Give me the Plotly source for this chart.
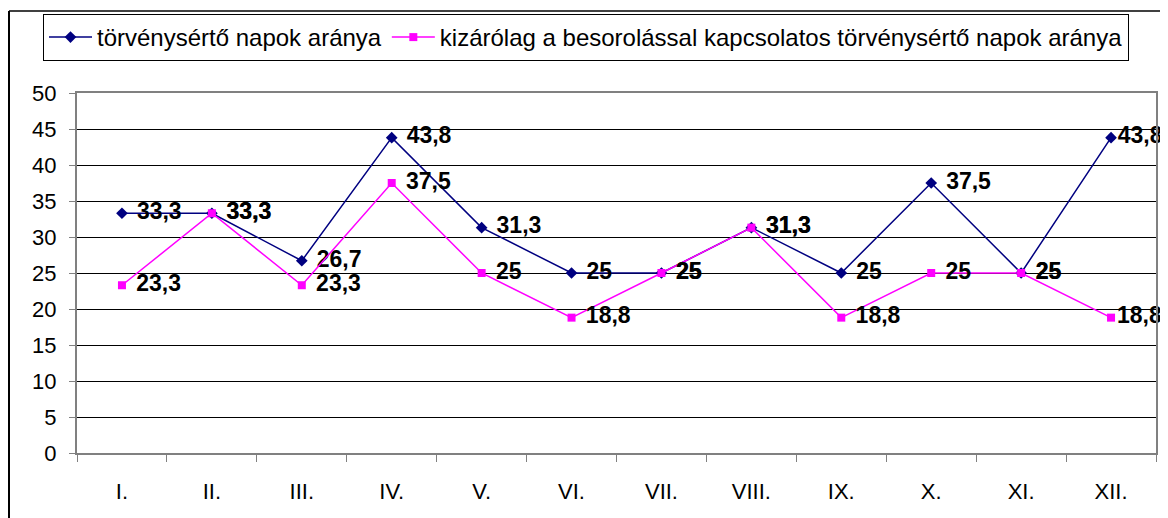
import plotly.graph_objects as go

categories = ["I.", "II.", "III.", "IV.", "V.", "VI.", "VII.", "VIII.", "IX.", "X.", "XI.", "XII."]
series1_name = "törvénysértő napok aránya"
series1 = [33.3, 33.3, 26.7, 43.8, 31.3, 25, 25, 31.3, 25, 37.5, 25, 43.8]
series2_name = "kizárólag a besorolással kapcsolatos törvénysértő napok aránya"
series2 = [23.3, 33.3, 23.3, 37.5, 25, 18.8, 25, 31.3, 18.8, 25, 25, 18.8]
y_ticks = [0, 5, 10, 15, 20, 25, 30, 35, 40, 45, 50]


def labels(values):
    out = []
    for i, v in enumerate(values):
        s = ("%g" % v).replace(".", ",")
        # last label is pulled in to fit inside the chart, as in the original
        pad = "" if i == len(values) - 1 else " \u200a"
        out.append(pad + s)
    return out


FONT = "Liberation Sans, Arial, sans-serif"

fig = go.Figure()
fig.add_trace(go.Scatter(
    x=categories, y=series1, name=series1_name, mode="lines+markers+text",
    line=dict(color="#000080", width=1.5),
    marker=dict(symbol="diamond", size=9, color="#000080"),
    text=labels(series1), textposition="middle right",
    textfont=dict(family=FONT, size=23, color="black", weight="bold"),
    cliponaxis=False,
))
fig.add_trace(go.Scatter(
    x=categories, y=series2, name=series2_name, mode="lines+markers+text",
    line=dict(color="#FF00FF", width=1.5),
    marker=dict(symbol="square", size=8, color="#FF00FF"),
    text=labels(series2), textposition="middle right",
    textfont=dict(family=FONT, size=23, color="black", weight="bold"),
    cliponaxis=False,
))

# page body has an 8px margin; figure spans screen 8..1168 x 8..518
OFF = 8
W, H = 1168 - OFF, 518 - OFF
L, R, T, B = 77 - OFF, 12, 93 - OFF, 65
pw, ph = W - L - R, H - T - B


def px_x(p):
    return (p - OFF - L) / pw


def px_y(p):
    return (H - B - (p - OFF)) / ph


fig.update_layout(
    width=W, height=H,
    margin=dict(l=L, r=R, t=T, b=B, autoexpand=False),
    paper_bgcolor="white", plot_bgcolor="white",
    font=dict(family=FONT, size=22, color="black"),
    showlegend=True,
    legend=dict(
        orientation="h", x=px_x(43), y=px_y(14), xanchor="left", yanchor="top",
        bordercolor="black", borderwidth=1, bgcolor="white",
        font=dict(family=FONT, size=24, color="black"),
        tracegroupgap=0, itemwidth=43,
    ),
    xaxis=dict(
        type="category", showgrid=False, showline=True, linecolor="#808080", linewidth=2,
        mirror=True, ticks="outside", tickson="boundaries", ticklen=7, tickcolor="#808080",
        tickfont=dict(family=FONT, size=22, color="black"), ticklabelstandoff=18,
        range=[-0.5, 11.5], automargin=False,
    ),
    yaxis=dict(
        range=[0, 50], tickvals=y_ticks, showgrid=True, gridcolor="black", gridwidth=1,
        showline=True, linecolor="#808080", linewidth=2, mirror=True,
        ticks="outside", ticklen=6, tickcolor="#808080",
        tickfont=dict(family=FONT, size=22, color="black"), ticklabelstandoff=8,
        zeroline=False, automargin=False,
    ),
    shapes=[
        dict(type="line", xref="paper", yref="paper", x0=px_x(9), x1=px_x(1175),
             y0=px_y(11), y1=px_y(11), line=dict(color="#404040", width=2)),
        dict(type="line", xref="paper", yref="paper", x0=px_x(9), x1=px_x(9),
             y0=px_y(11), y1=px_y(525), line=dict(color="black", width=2)),
    ],
)

fig.write_html("out.html")
